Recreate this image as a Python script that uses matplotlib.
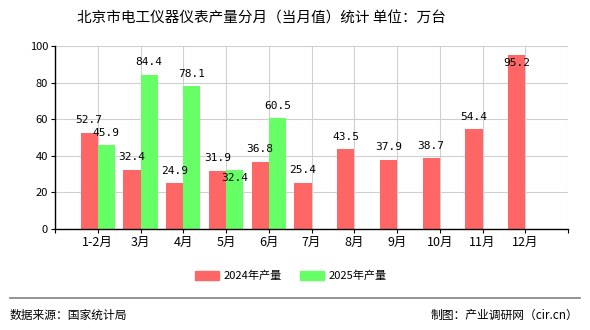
import numpy as np
import matplotlib.pyplot as plt
from matplotlib.patches import Patch

plt.rcParams['font.family'] = ['Noto Sans CJK SC', 'DejaVu Sans']

# monthly output, 10k units
months = ['1-2月', '3月', '4月', '5月', '6月', '7月', '8月', '9月', '10月', '11月', '12月']
y2024 = [52.7, 32.4, 24.9, 31.9, 36.8, 25.4, 43.5, 37.9, 38.7, 54.4, 95.2]
y2025 = [45.9, 84.4, 78.1, 32.4, 60.5]
yticks = [0, 20, 40, 60, 80, 100]

red = '#ff6666'
green = '#66ff66'
mono = ['DejaVu Sans Mono', 'Noto Sans CJK SC']

fig = plt.figure(figsize=(5.9, 3.3), dpi=100)
ax = fig.add_axes([55 / 590, 1 - 229 / 330, 513 / 590, 183 / 330])

x = np.arange(len(months))
w = 0.4
ax.bar(x[:len(y2024)] - w / 2, y2024, w, color=red, zorder=2)
ax.bar(x[:len(y2025)] + w / 2, y2025, w, color=green, zorder=2)


def label(xpos, v, inside=False):
    # value label centred on the bar; pushed into the bar when there is no room above
    dy = -6 if inside else 9
    ax.annotate(f'{v:.1f}', (xpos, v), xytext=(0, dy), textcoords='offset points',
                ha='center', va='center', fontsize=8, family=mono, zorder=3)


for i, v in enumerate(y2024):
    label(x[i] - w / 2, v, inside=v > 90)
for i, v in enumerate(y2025):
    clash = abs(v - y2024[i]) < 3
    label(x[i] + w / 2, v, inside=clash or v > 90)

ax.set_xlim(-1, 11)
ax.set_ylim(0, 100)
ax.set_xticks(np.arange(-1, 12))
ax.set_xticklabels([''] + months + [''], fontsize=9)
ax.set_yticks(yticks)
ax.set_yticklabels([str(t) for t in yticks], fontsize=8)
ax.tick_params(axis='both', length=3, width=0.8, pad=2)
ax.grid(True, color='#d0d0d0', linewidth=0.8, zorder=0)

for s in ['top', 'right']:
    ax.spines[s].set_visible(False)
ax.spines['left'].set_linewidth(1)
ax.spines['bottom'].set_linewidth(1)

fig.text(261 / 590, 1 - 19 / 330, '北京市电工仪器仪表产量分月（当月值）统计 单位：万台',
         ha='center', va='center', fontsize=10.5)

handles = [Patch(color=red, label='2024年产量'), Patch(color=green, label='2025年产量')]
fig.legend(handles=handles, loc='center', bbox_to_anchor=(291 / 590, 1 - 276 / 330),
           ncol=2, frameon=False, fontsize=8, handlelength=2.2, handleheight=0.9,
           columnspacing=1.6, handletextpad=0.4)

fig.add_artist(plt.Line2D([10 / 590, 580 / 590], [1 - 298 / 330] * 2,
                          color='#808080', linewidth=1.2))
fig.text(10 / 590, 1 - 315 / 330, '数据来源：国家统计局', ha='left', va='center', fontsize=8.5)
fig.text(578 / 590, 1 - 315 / 330, '制图：产业调研网（cir.cn）', ha='right', va='center', fontsize=8.5)

fig.savefig('out.png', dpi=100)
